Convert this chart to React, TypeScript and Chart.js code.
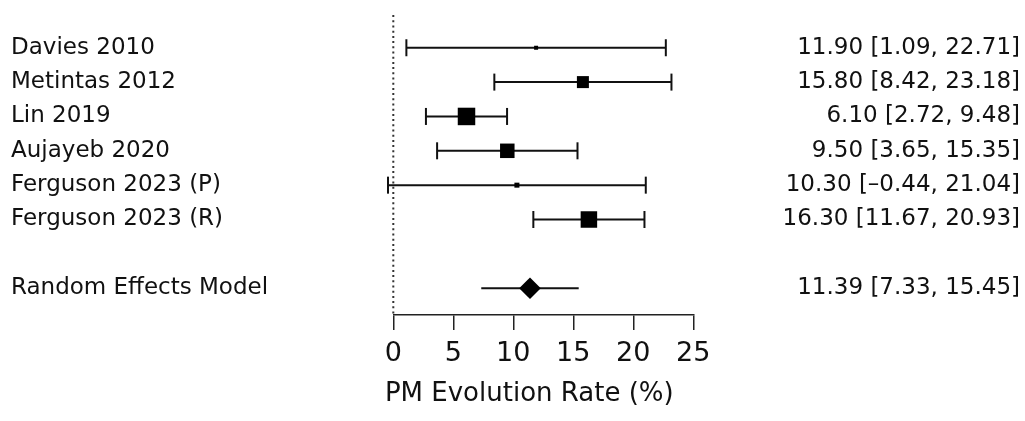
import React, { useEffect, useRef } from "react";
import { Chart, registerables } from "chart.js";

Chart.register(...registerables);

// ---------- data ----------
const studies = [
  "Davies 2010",
  "Metintas 2012",
  "Lin 2019",
  "Aujayeb 2020",
  "Ferguson 2023 (P)",
  "Ferguson 2023 (R)",
];
const estimates = [11.9, 15.8, 6.1, 9.5, 10.3, 16.3];
const lowerCI = [1.09, 8.42, 2.72, 3.65, -0.44, 11.67];
const upperCI = [22.71, 23.18, 9.48, 15.35, 21.04, 20.93];

const summaryLabel = "Random Effects Model";
const summaryEstimate = [11.39];
const summaryLower = [7.33];
const summaryUpper = [15.45];

const xTicks = [0, 5, 10, 15, 20, 25];
const xTitle = "PM Evolution Rate (%)";

// ---------- style ----------
const squareSidePx = [4, 12, 17.5, 14.5, 5, 16.5];
const FONT = "'DejaVu Sans', 'Liberation Sans', sans-serif";
const INK = "#111";

const fmt = (v: number) => v.toFixed(2).replace("-", "\u2013");

export default function App() {
  const ref = useRef<HTMLCanvasElement | null>(null);

  useEffect(() => {
    if (!ref.current) return;

    const n = studies.length;
    const rowOf = (i: number) => i + 1;
    const summaryRow = n + 2;
    const yMax = summaryRow + 0.78;

    const leftLabels: Record<number, string> = {};
    const rightLabels: Record<number, string> = {};
    studies.forEach((s, i) => {
      leftLabels[rowOf(i)] = s;
      rightLabels[rowOf(i)] = `${fmt(estimates[i])} [${fmt(lowerCI[i])}, ${fmt(upperCI[i])}]`;
    });
    leftLabels[summaryRow] = summaryLabel;
    rightLabels[summaryRow] = `${fmt(summaryEstimate[0])} [${fmt(summaryLower[0])}, ${fmt(summaryUpper[0])}]`;
    const rowValues = Object.keys(leftLabels).map(Number);

    const datasets: any[] = [];

    // squares
    datasets.push({
      type: "scatter",
      data: estimates.map((e, i) => ({ x: e, y: rowOf(i) })),
      pointStyle: "rect",
      pointRadius: squareSidePx.map((s) => s / Math.SQRT2),
      pointBackgroundColor: "#000",
      pointBorderWidth: 0,
      showLine: false,
      clip: false,
    });

    // summary diamond
    datasets.push({
      type: "scatter",
      data: summaryEstimate.map((e) => ({ x: e, y: summaryRow })),
      pointStyle: "rectRot",
      pointRadius: 10.8,
      pointBackgroundColor: "#000",
      pointBorderWidth: 0,
      showLine: false,
      clip: false,
    });

    // CI lines with caps
    studies.forEach((_, i) => {
      datasets.push({
        type: "line",
        data: [
          { x: lowerCI[i], y: rowOf(i) },
          { x: upperCI[i], y: rowOf(i) },
        ],
        borderColor: INK,
        borderWidth: 2,
        pointStyle: "line",
        pointRotation: 90,
        pointRadius: 8.5,
        pointBorderWidth: 2,
        pointBorderColor: INK,
        clip: false,
      });
    });

    // summary CI line
    datasets.push({
      type: "line",
      data: [
        { x: summaryLower[0], y: summaryRow },
        { x: summaryUpper[0], y: summaryRow },
      ],
      borderColor: INK,
      borderWidth: 2,
      pointRadius: 0,
      clip: false,
    });

    // dotted reference line at 0
    datasets.push({
      type: "line",
      data: [
        { x: 0, y: 0.05 },
        { x: 0, y: yMax },
      ],
      borderColor: "#333",
      borderWidth: 2,
      borderDash: [2, 3.2],
      pointRadius: 0,
      clip: false,
    });

    datasets.forEach((d) => (d.yAxisID = "yLeft"));

    const zeroPad = (s: any) => {
      s.paddingTop = 0;
      s.paddingBottom = 0;
      s.paddingLeft = 0;
      s.paddingRight = 0;
    };

    const titlePlugin = {
      id: "xTitle",
      afterDraw(chart: any) {
        const { ctx, chartArea } = chart;
        ctx.save();
        ctx.font = `26px ${FONT}`;
        ctx.fillStyle = INK;
        ctx.textAlign = "center";
        ctx.textBaseline = "middle";
        ctx.fillText(xTitle, (chartArea.left + chartArea.right) / 2 - 14, chartArea.bottom + 79);
        ctx.restore();
      },
    };

    const yCommon = {
      type: "linear",
      min: 0,
      max: yMax,
      reverse: true,
      grid: { display: false },
      border: { display: false },
    };

    const chart = new Chart(ref.current, {
      type: "scatter",
      data: { datasets },
      plugins: [titlePlugin],
      options: {
        animation: false,
        responsive: false,
        events: [],
        layout: { padding: { left: 11, right: 5, top: 13.4, bottom: 0 } },
        plugins: { legend: { display: false }, tooltip: { enabled: false } },
        scales: {
          x: {
            type: "linear",
            position: "bottom",
            min: xTicks[0],
            max: xTicks[xTicks.length - 1],
            afterBuildTicks: (s: any) => {
              s.ticks = xTicks.map((v) => ({ value: v }));
            },
            afterFit: (s: any) => {
              s.height = 106;
              zeroPad(s);
            },
            grid: {
              drawOnChartArea: false,
              drawTicks: true,
              tickLength: 15,
              color: "#222",
              lineWidth: 1.5,
            },
            border: { display: true, color: "#222", width: 1.5 },
            ticks: {
              font: { family: FONT, size: 27 },
              color: INK,
              padding: 8,
              maxRotation: 0,
              callback: (v: any) => String(v),
            },
          },
          yLeft: {
            ...yCommon,
            position: "left",
            afterBuildTicks: (s: any) => {
              s.ticks = rowValues.map((v) => ({ value: v }));
            },
            afterFit: (s: any) => {
              s.width = 382.3;
              zeroPad(s);
            },
            ticks: {
              font: { family: FONT, size: 23 },
              color: INK,
              crossAlign: "far",
              padding: 0,
              autoSkip: false,
              callback: (v: any) => leftLabels[Number(v)] ?? "",
            },
          },
          yRight: {
            ...yCommon,
            position: "right",
            afterBuildTicks: (s: any) => {
              s.ticks = rowValues.map((v) => ({ value: v }));
            },
            afterFit: (s: any) => {
              s.width = 326.7;
              zeroPad(s);
            },
            ticks: {
              font: { family: FONT, size: 23 },
              color: INK,
              crossAlign: "far",
              padding: 0,
              autoSkip: false,
              callback: (v: any) => rightLabels[Number(v)] ?? "",
            },
          },
        },
      } as any,
    } as any);

    return () => chart.destroy();
  }, []);

  return (
    <div style={{ position: "fixed", left: 0, top: 0, width: 1025, height: 421, background: "#fff" }}>
      <canvas ref={ref} width={1025} height={421} style={{ display: "block" }} />
    </div>
  );
}
